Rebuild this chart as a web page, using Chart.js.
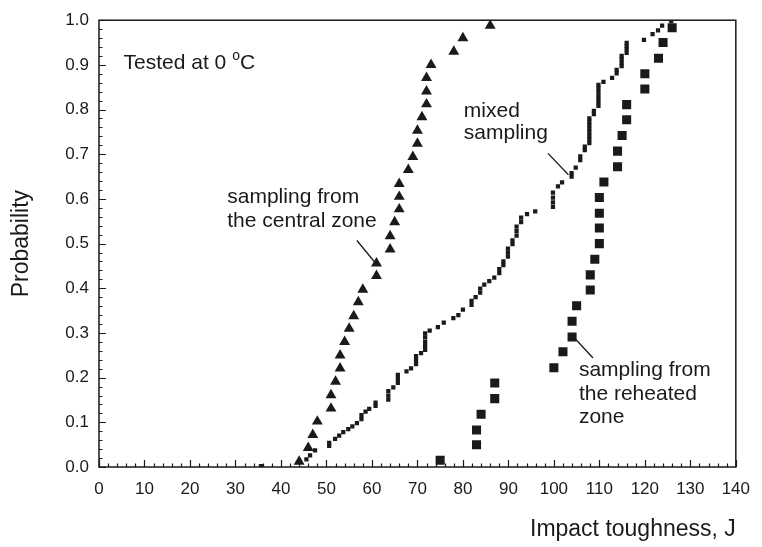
<!DOCTYPE html>
<html>
<head>
<meta charset="utf-8">
<script src="https://cdn.jsdelivr.net/npm/chart.js@4.4.1/dist/chart.umd.min.js"></script>
<style>
  html, body { margin: 0; padding: 0; background: #fff; }
  #wrap { width: 762px; height: 547px; }
</style>
</head>
<body>
<div id="wrap"><canvas id="c" width="762" height="547"></canvas></div>
<script>
// ---- data ----
const xTicks = [0, 10, 20, 30, 40, 50, 60, 70, 80, 90, 100, 110, 120, 130, 140];
const xTickLabels = ['0', '10', '20', '30', '40', '50', '60', '70', '80', '90', '100', '110', '120', '130', '140'];
const yTicks = [0, 0.1, 0.2, 0.3, 0.4, 0.5, 0.6, 0.7, 0.8, 0.9, 1.0];
const yTickLabels = ['0.0', '0.1', '0.2', '0.3', '0.4', '0.5', '0.6', '0.7', '0.8', '0.9', '1.0'];

// sampling from the central zone (triangles)
const centralX = [44, 46, 47, 48, 51, 51, 52, 53, 53, 54, 55, 56, 57, 58, 61, 61, 64, 64, 65, 66, 66, 66, 68, 69, 70, 70, 71, 72, 72, 72, 73, 78, 80, 86];
const centralP = [0.012, 0.043, 0.072, 0.102, 0.131, 0.161, 0.191, 0.221, 0.250, 0.280, 0.310, 0.338, 0.369, 0.397, 0.428, 0.456, 0.487, 0.517, 0.548, 0.577, 0.605, 0.634, 0.665, 0.694, 0.724, 0.753, 0.783, 0.812, 0.841, 0.871, 0.900, 0.930, 0.960, 0.988];

// sampling from the reheated zone (squares)
const reheatedX = [75, 83, 83, 84, 87, 87, 100, 102, 104, 104, 105, 108, 108, 109, 110, 110, 110, 110, 111, 114, 114, 115, 116, 116, 120, 120, 123, 124, 126];
const reheatedP = [0.015, 0.050, 0.083, 0.118, 0.153, 0.188, 0.222, 0.258, 0.291, 0.326, 0.361, 0.396, 0.430, 0.465, 0.500, 0.535, 0.568, 0.603, 0.638, 0.672, 0.707, 0.742, 0.777, 0.811, 0.846, 0.880, 0.915, 0.950, 0.983];

// mixed sampling (small dots)
const mixedX = [35.6, 45.6, 46.4, 47.5, 50.6, 50.6, 51.9, 52.8, 53.7, 54.8, 55.7, 56.7, 57.7, 57.7, 58.6, 59.4, 60.8, 60.8, 63.6, 63.6, 63.6, 64.7, 65.7, 65.7, 65.7, 67.6, 68.6, 69.7, 69.7, 69.7, 70.8, 71.7, 71.7, 71.7, 71.7, 71.7, 72.7, 74.5, 75.8, 77.9, 79.0, 80.0, 81.9, 81.9, 82.8, 83.8, 83.8, 84.7, 85.8, 86.9, 88.0, 88.0, 88.9, 88.9, 89.9, 89.9, 89.9, 90.9, 90.9, 91.8, 91.8, 91.8, 92.8, 92.8, 94.1, 95.9, 99.8, 99.8, 99.8, 99.8, 100.9, 101.8, 103.9, 103.9, 104.8, 105.8, 105.8, 106.8, 106.8, 107.8, 107.8, 107.8, 107.8, 107.8, 107.8, 107.8, 107.8, 108.8, 108.8, 109.8, 109.8, 109.8, 109.8, 109.8, 109.8, 109.8, 110.9, 112.8, 113.8, 113.8, 114.9, 114.9, 114.9, 114.9, 116.0, 116.0, 116.0, 116.0, 119.8, 121.7, 122.9, 123.8, 125.8];
const mixedP = [0.002, 0.017, 0.026, 0.037, 0.047, 0.054, 0.063, 0.070, 0.078, 0.085, 0.091, 0.098, 0.107, 0.116, 0.124, 0.130, 0.137, 0.144, 0.151, 0.160, 0.170, 0.178, 0.188, 0.197, 0.206, 0.214, 0.221, 0.230, 0.239, 0.248, 0.255, 0.262, 0.271, 0.280, 0.290, 0.299, 0.305, 0.313, 0.323, 0.333, 0.340, 0.352, 0.363, 0.372, 0.380, 0.390, 0.399, 0.408, 0.416, 0.424, 0.434, 0.443, 0.452, 0.460, 0.471, 0.480, 0.489, 0.499, 0.507, 0.518, 0.528, 0.538, 0.548, 0.558, 0.566, 0.572, 0.582, 0.592, 0.603, 0.614, 0.628, 0.637, 0.650, 0.658, 0.670, 0.687, 0.695, 0.709, 0.717, 0.725, 0.733, 0.741, 0.749, 0.757, 0.765, 0.773, 0.780, 0.790, 0.797, 0.808, 0.816, 0.824, 0.832, 0.840, 0.848, 0.855, 0.862, 0.871, 0.881, 0.889, 0.897, 0.905, 0.913, 0.920, 0.927, 0.935, 0.942, 0.949, 0.956, 0.969, 0.977, 0.988, 0.998];

const FONT = "'Liberation Sans', Arial, Helvetica, sans-serif";
const INK = '#1a1a1a';

function pts(xs, ys) { return xs.map((x, i) => ({ x: x, y: ys[i] })); }

// inward ticks, frame, annotations
const decor = {
  id: 'decor',
  beforeDatasetsDraw(chart) {
    const { ctx, chartArea: a, scales: { x, y } } = chart;
    ctx.save();
    ctx.strokeStyle = INK;
    ctx.lineWidth = 1.2;
    ctx.beginPath();
    for (let v = 0; v <= 140; v += 2) {
      const px = Math.round(x.getPixelForValue(v)) + 0.5;
      const len = (v % 10 === 0) ? 7 : 3.5;
      ctx.moveTo(px, a.bottom); ctx.lineTo(px, a.bottom - len);
    }
    for (let k = 0; k <= 50; k++) {
      const v = k * 0.02;
      const py = Math.round(y.getPixelForValue(v)) + 0.5;
      const len = (k % 5 === 0) ? 7 : 3.5;
      ctx.moveTo(a.left, py); ctx.lineTo(a.left + len, py);
    }
    ctx.stroke();
    ctx.lineWidth = 1.5;
    ctx.strokeRect(a.left, a.top, a.right - a.left, a.bottom - a.top);
    ctx.restore();
  },
  afterDatasetsDraw(chart) {
    const { ctx, scales: { x, y } } = chart;
    const X = v => x.getPixelForValue(v), Y = v => y.getPixelForValue(v);
    ctx.save();
    ctx.fillStyle = INK;
    ctx.textBaseline = 'middle';
    ctx.textAlign = 'left';
    ctx.font = '21px ' + FONT;
    // Tested at 0 °C
    let tx = X(5.4), ty = Y(0.903);
    const t1 = 'Tested at 0 ';
    ctx.fillText(t1, tx, ty);
    tx += ctx.measureText(t1).width;
    ctx.font = '14px ' + FONT;
    ctx.fillText('o', tx, ty - 7);
    tx += ctx.measureText('o').width;
    ctx.font = '21px ' + FONT;
    ctx.fillText('C', tx, ty);
    // central zone
    ctx.fillText('sampling from', X(28.2), Y(0.604));
    ctx.fillText('the central zone', X(28.2), Y(0.551));
    // mixed
    ctx.fillText('mixed', X(80.2), Y(0.797));
    ctx.fillText('sampling', X(80.2), Y(0.746));
    // reheated
    ctx.fillText('sampling from', X(105.5), Y(0.217));
    ctx.fillText('the reheated', X(105.5), Y(0.162));
    ctx.fillText('zone', X(105.5), Y(0.111));
    // leader lines
    ctx.strokeStyle = INK;
    ctx.lineWidth = 1.3;
    ctx.beginPath();
    ctx.moveTo(X(56.7), Y(0.507)); ctx.lineTo(X(60.5), Y(0.460));
    ctx.moveTo(X(98.7), Y(0.702)); ctx.lineTo(X(103.2), Y(0.654));
    ctx.moveTo(X(104.8), Y(0.286)); ctx.lineTo(X(108.6), Y(0.244));
    ctx.stroke();
    ctx.restore();
  }
};

new Chart(document.getElementById('c'), {
  type: 'scatter',
  data: {
    datasets: [
      { label: 'mixed sampling', data: pts(mixedX, mixedP), pointStyle: 'rect', pointRadius: 3, pointBorderWidth: 0, backgroundColor: INK, borderColor: INK },
      { label: 'sampling from the central zone', data: pts(centralX, centralP), pointStyle: 'triangle', pointRadius: 6.3, pointBorderWidth: 0, backgroundColor: INK, borderColor: INK },
      { label: 'sampling from the reheated zone', data: pts(reheatedX, reheatedP), pointStyle: 'rect', pointRadius: 6.4, pointBorderWidth: 0, backgroundColor: INK, borderColor: INK }
    ]
  },
  options: {
    responsive: false,
    animation: false,
    events: [],
    layout: { padding: { left: 0, right: 17, top: 13, bottom: 0 } },
    plugins: { legend: { display: false }, tooltip: { enabled: false } },
    scales: {
      x: {
        type: 'linear', min: 0, max: 140,
        afterBuildTicks(s) { s.ticks = xTicks.map(v => ({ value: v })); },
        afterFit(s) { s.height = 80; },
        ticks: { callback: (v, i) => xTickLabels[i], font: { size: 17, family: FONT }, color: INK, padding: 12, maxRotation: 0, autoSkip: false },
        grid: { display: false, drawTicks: false },
        border: { display: false },
        title: { display: true, text: 'Impact toughness, J', align: 'end', color: INK, font: { size: 23, family: FONT }, padding: { top: 0, bottom: 4 } }
      },
      y: {
        type: 'linear', min: 0, max: 1,
        afterBuildTicks(s) { s.ticks = yTicks.map(v => ({ value: v })); },
        afterFit(s) { s.width = 99; },
        ticks: { callback: (v, i) => yTickLabels[i], font: { size: 17, family: FONT }, color: INK, padding: 10, autoSkip: false },
        grid: { display: false, drawTicks: false },
        border: { display: false },
        title: { display: true, text: 'Probability', color: INK, font: { size: 23, family: FONT }, padding: { top: 8, bottom: 0 } }
      }
    }
  },
  plugins: [decor]
});
</script>
</body>
</html>
